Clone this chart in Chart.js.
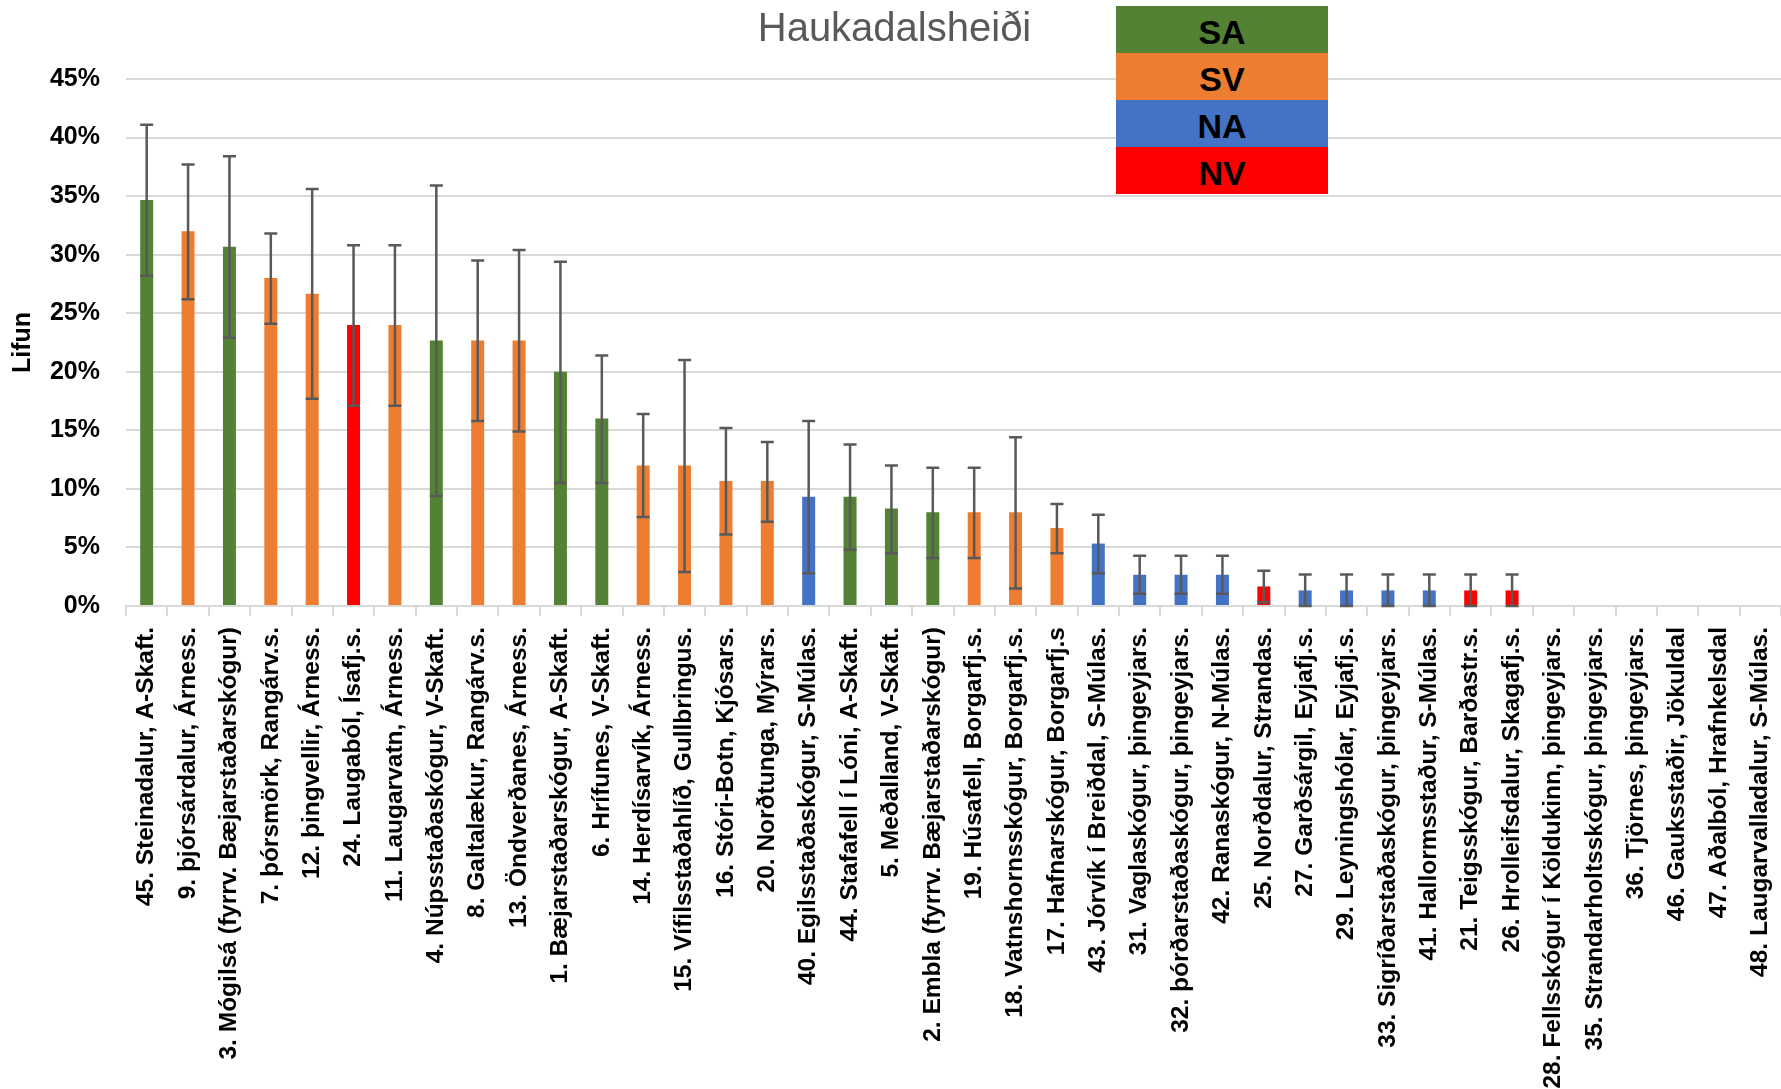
<!DOCTYPE html>
<html>
<head>
<meta charset="utf-8">
<title>Haukadalsheiði</title>
<script src="https://cdn.jsdelivr.net/npm/chart.js"></script>
<style>
  body { margin: 0; background: #fff; }
  #wrap { position: relative; width: 1781px; height: 1089px; overflow: hidden; }
  #grafico { display: block; }
  #legend { position: absolute; left: 1116px; top: 6px; width: 212px; }
  #legend div { height: 47px; line-height: 47px; padding-top: 7px; box-sizing: border-box;
    text-align: center; color: #000; font: bold 34px 'Liberation Sans', Arial, sans-serif; }
</style>
</head>
<body>
<div id="wrap">
  <canvas id="grafico" width="1781" height="1089"></canvas>
  <div id="legend"></div>
</div>
<script>
const sites = [
  '45. Steinadalur, A-Skaft.', '9. þjórsárdalur, Árness.', '3. Mógilsá (fyrrv. Bæjarstaðarskógur)',
  '7. þórsmörk, Rangárv.s.', '12. þingvellir, Árness.', '24. Laugaból, Ísafj.s.', '11. Laugarvatn, Árness.',
  '4. Núpsstaðaskógur, V-Skaft.', '8. Galtalækur, Rangárv.s.', '13. Öndverðanes, Árness.',
  '1. Bæjarstaðarskógur, A-Skaft.', '6. Hrífunes, V-Skaft.', '14. Herdísarvík, Árness.',
  '15. Vífilsstaðahlíð, Gullbringus.', '16. Stóri-Botn, Kjósars.', '20. Norðtunga, Mýrars.',
  '40. Egilsstaðaskógur, S-Múlas.', '44. Stafafell í Lóni, A-Skaft.', '5. Meðalland, V-Skaft.',
  '2. Embla (fyrrv. Bæjarstaðarskógur)', '19. Húsafell, Borgarfj.s.', '18. Vatnshornsskógur, Borgarfj.s.',
  '17. Hafnarskógur, Borgarfj.s', '43. Jórvík í Breiðdal, S-Múlas.', '31. Vaglaskógur, þingeyjars.',
  '32. þórðarstaðaskógur, þingeyjars.', '42. Ranaskógur, N-Múlas.', '25. Norðdalur, Strandas.',
  '27. Garðsárgil, Eyjafj.s.', '29. Leyningshólar, Eyjafj.s.', '33. Sigríðarstaðaskógur, þingeyjars.',
  '41. Hallormsstaður, S-Múlas.', '21. Teigsskógur, Barðastr.s.', '26. Hrolleifsdalur, Skagafj.s.',
  '28. Fellsskógur í Köldukinn, þingeyjars.', '35. Strandarholtsskógur, þingeyjars.',
  '36. Tjörnes, þingeyjars.', '46. Gauksstaðir, Jökuldal', '47. Aðalból, Hrafnkelsdal',
  '48. Laugarvalladalur, S-Múlas.'
];
const regions = [
  'SA', 'SV', 'SA', 'SV', 'SV', 'NV', 'SV', 'SA', 'SV', 'SV',
  'SA', 'SA', 'SV', 'SV', 'SV', 'SV', 'NA', 'SA', 'SA', 'SA',
  'SV', 'SV', 'SV', 'NA', 'NA', 'NA', 'NA', 'NV', 'NA', 'NA',
  'NA', 'NA', 'NV', 'NV', 'NA', 'NA', 'NA', 'NA', 'NA', 'NA'
];
// lifun (%)
const survival = [
  34.67, 32.0, 30.67, 28.0, 26.67, 24.0, 24.0, 22.67, 22.67, 22.67,
  20.0, 16.0, 12.0, 12.0, 10.67, 10.67, 9.33, 9.33, 8.33, 8.0,
  8.0, 8.0, 6.67, 5.33, 2.67, 2.67, 2.67, 1.67, 1.33, 1.33,
  1.33, 1.33, 1.33, 1.33, 0, 0, 0, 0, 0, 0
];
const errHigh = [
  41.1, 37.7, 38.4, 31.8, 35.6, 30.8, 30.8, 35.9, 29.5, 30.4,
  29.4, 21.4, 16.4, 21.0, 15.2, 14.0, 15.8, 13.8, 12.0, 11.8,
  11.8, 14.4, 8.7, 7.8, 4.3, 4.3, 4.3, 3.0, 2.7, 2.7,
  2.7, 2.7, 2.7, 2.7, null, null, null, null, null, null
];
const errLow = [
  28.2, 26.2, 22.9, 24.1, 17.7, 17.1, 17.1, 9.4, 15.8, 14.9,
  10.5, 10.5, 7.6, 2.9, 6.1, 7.2, 2.8, 4.8, 4.5, 4.1,
  4.1, 1.5, 4.5, 2.8, 1.05, 1.05, 1.05, 0.3, 0, 0,
  0, 0, 0, 0, null, null, null, null, null, null
];
const regionNames = ['SA', 'SV', 'NA', 'NV'];
const regionColors = { SA: '#548235', SV: '#ED7D31', NA: '#4472C4', NV: '#FF0000' };

const legend = document.getElementById('legend');
regionNames.forEach(function (r) {
  const row = document.createElement('div');
  row.textContent = r;
  row.style.background = regionColors[r];
  legend.appendChild(row);
});

const errorBars = {
  id: 'errorBars',
  afterDatasetsDraw(chart) {
    const ctx = chart.ctx;
    const y = chart.scales.y;
    const meta = chart.getDatasetMeta(0);
    ctx.save();
    ctx.strokeStyle = '#595959';
    ctx.lineWidth = 2.5;
    meta.data.forEach(function (bar, i) {
      if (errHigh[i] === null) return;
      const top = y.getPixelForValue(errHigh[i]);
      const bottom = y.getPixelForValue(errLow[i]);
      const half = bar.width / 2;
      ctx.beginPath();
      ctx.moveTo(bar.x, top);
      ctx.lineTo(bar.x, bottom);
      ctx.moveTo(bar.x - half, top);
      ctx.lineTo(bar.x + half, top);
      ctx.moveTo(bar.x - half, bottom);
      ctx.lineTo(bar.x + half, bottom);
      ctx.stroke();
    });
    ctx.restore();
  }
};

Chart.defaults.font.family = "'Liberation Sans', Arial, sans-serif";
Chart.defaults.color = '#000';

const grafico = document.getElementById('grafico');
new Chart(grafico, {
  type: 'bar',
  data: {
    labels: sites,
    datasets: [{
      label: 'Lifun',
      data: survival,
      backgroundColor: regions.map(r => regionColors[r]),
      borderWidth: 0,
      barPercentage: 0.314,
      categoryPercentage: 1
    }]
  },
  options: {
    responsive: false,
    animation: false,
    layout: { padding: { left: 8, right: 0, top: 0, bottom: 0 } },
    plugins: {
      legend: { display: false },
      tooltip: { enabled: false },
      title: {
        display: true,
        text: 'Haukadalsheiði',
        color: '#595959',
        font: { size: 40, weight: 'normal' },
        padding: { top: 6, bottom: 25 }
      }
    },
    scales: {
      x: {
        grid: { drawOnChartArea: false, color: '#d9d9d9', lineWidth: 2, tickLength: 10 },
        border: { color: '#d9d9d9', width: 2 },
        ticks: {
          autoSkip: false,
          maxRotation: 90,
          minRotation: 90,
          padding: 11,
          font: { size: 24.5, weight: 'bold' }
        },
        afterFit(scale) {
          scale.paddingLeft = 0;
          scale.paddingRight = 0;
          scale.height = 483;
        }
      },
      y: {
        min: 0,
        max: 45,
        grid: { color: '#d9d9d9', lineWidth: 2, drawTicks: false },
        border: { display: false },
        ticks: {
          stepSize: 5,
          padding: 26,
          font: { size: 25, weight: 'bold' },
          callback: v => v + '%'
        },
        title: {
          display: true,
          text: 'Lifun',
          font: { size: 25, weight: 'bold' },
          padding: { top: 0, bottom: 12 }
        },
        afterFit(scale) { scale.width = 118; }
      }
    }
  },
  plugins: [errorBars]
});
</script>
</body>
</html>
